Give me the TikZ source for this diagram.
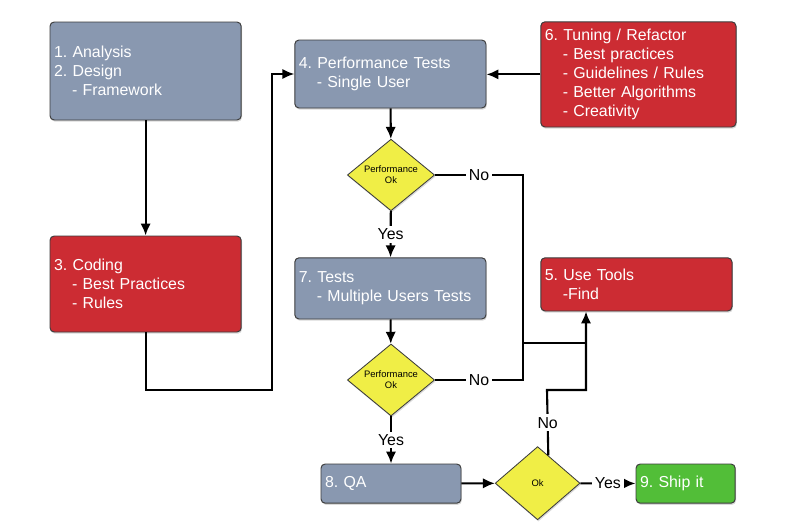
\documentclass[tikz,border=0pt]{standalone}
\usepackage{fontspec}
\setmainfont{Liberation Sans}
\usepackage{xcolor}
\usepackage{tikz}
\usetikzlibrary{arrows.meta,calc,positioning,shapes.geometric,shadows}
\definecolor{stepgray}{RGB}{137,152,176}
\definecolor{stepred}{RGB}{204,44,51}
\definecolor{decyellow}{RGB}{240,238,70}
\definecolor{shipgreen}{RGB}{82,190,56}
\definecolor{edgegray}{RGB}{60,60,60}
\newcommand{\indt}{\hspace*{0.45cm}}
\frenchspacing

\begin{document}
\begin{tikzpicture}[
  font=\fontsize{11.3}{13.5}\selectfont,
  box/.style={draw=edgegray, line width=0.7pt, rounded corners=3pt, text=white, align=left,
    inner xsep=0.1cm, drop shadow={opacity=0.3, shadow xshift=0.6pt, shadow yshift=-1.2pt}},
  graybox/.style={box, fill=stepgray},
  redbox/.style={box, fill=stepred},
  greenbox/.style={box, fill=shipgreen},
  check/.style={diamond, draw=edgegray, line width=0.6pt, fill=decyellow, inner sep=0pt, align=center,
    font=\fontsize{6.7}{7.7}\selectfont,
    drop shadow={opacity=0.3, shadow xshift=0.6pt, shadow yshift=-1.2pt}},
  lbl/.style={fill=white, inner sep=2pt, text=black},
  arr/.style={-{Latex[length=3mm, width=2.6mm]}, line width=1.5pt},
  wire/.style={line width=1.5pt}
]
\useasboundingbox (0,0) rectangle (20.175,-13.25);
% left column
\node[graybox, minimum height=2.45cm, text width=4.58cm] (design) at (3.64,-1.775)
  {1. Analysis\\2. Design\\\indt- Framework};
\node[redbox, minimum height=2.4cm, text width=4.58cm] (coding) at (3.64,-7.1)
  {3. Coding\\\indt- Best Practices\\\indt- Rules};
% middle column
\node[graybox, minimum height=1.7cm, text width=4.58cm] (perf) at (9.76,-1.85)
  {4. Performance Tests\\\indt- Single User};
\node[check, minimum width=2.18cm, minimum height=1.75cm] (chk1) at (9.775,-4.375)
  {Performance\\Ok};
\node[graybox, minimum height=1.53cm, text width=4.58cm] (tests) at (9.76,-7.21)
  {7. Tests\\\indt- Multiple Users Tests};
\node[check, minimum width=2.18cm, minimum height=1.8cm] (chk2) at (9.775,-9.5)
  {Performance\\Ok};
\node[graybox, minimum height=0.98cm, text width=3.3cm] (qa) at (9.775,-12.09) {8. QA};
% right column
\node[redbox, minimum height=2.63cm, text width=4.68cm] (tuning) at (15.96,-1.86)
  {6. Tuning / Refactor\\\indt- Best practices\\\indt- Guidelines / Rules\\\indt- Better Algorithms\\\indt- Creativity};
\node[redbox, minimum height=1.33cm, text width=4.58cm] (tools) at (15.91,-7.11)
  {5. Use Tools\\\indt-Find};
\node[check, minimum width=2.12cm, minimum height=1.83cm] (ok) at (13.44,-12.08) {Ok};
\node[greenbox, minimum height=0.98cm, text width=2.28cm] (ship) at (17.14,-12.09) {9. Ship it};

\coordinate (turn) at (6.8,-9.75);
\coordinate (bus) at (13.075,-8.575);
\coordinate (hub) at (14.65,-8.575);
\coordinate (jog) at (13.675,-9.75);

\draw[arr] (design) -- (coding);
\draw[arr] (coding.south) |- (turn) |- (perf.west);
\draw[arr] (tuning.west) -- (tuning.west -| perf.east);
\draw[arr] (perf) -- (chk1);
\draw[arr] (chk1) -- node[lbl]{Yes} (tests);
\draw[arr] (tests) -- (chk2);
\draw[arr] (chk2) -- node[lbl]{Yes} (qa);
\draw[arr] (qa) -- (ok);
\draw[arr] (ok) -- node[lbl]{Yes} (ship);
\draw[wire] (chk1.east) -- node[lbl]{No} (chk1.east -| bus) -- (chk2.east -| bus)
  -- node[lbl]{No} (chk2.east);
\draw[wire] (bus) -- (hub);
\draw[arr] ($(ok.north)!0.25!(ok.east)$) -- node[lbl]{No} (jog) -| (hub) -- (tools.south -| hub);
\end{tikzpicture}
\end{document}
